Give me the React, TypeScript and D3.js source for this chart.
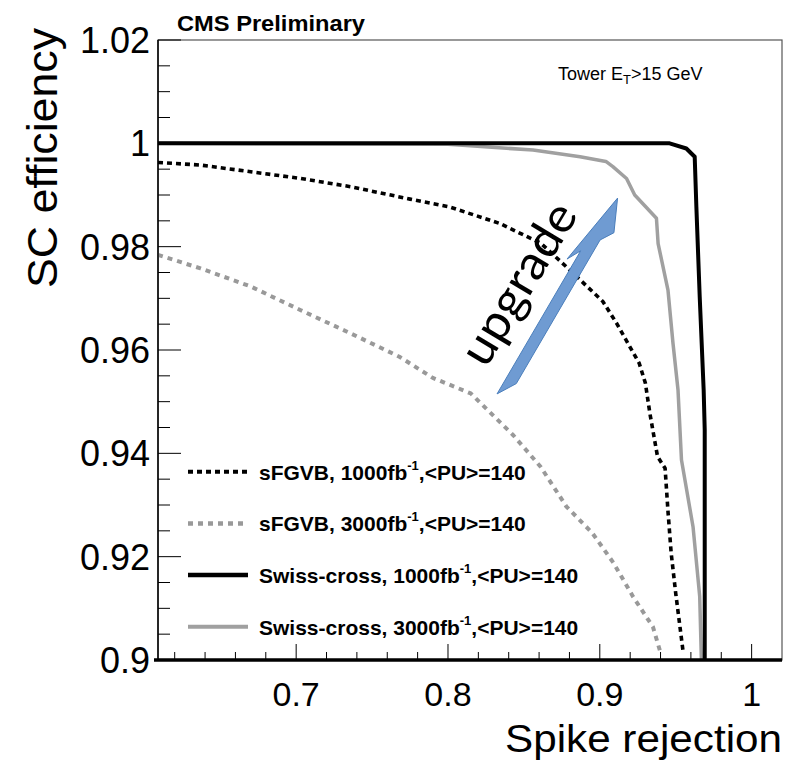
import React, { useEffect, useRef } from 'react';
import * as d3 from 'd3';

type Pt = [number, number];

// sFGVB, 1000 fb-1, <PU>=140  (spike rejection, SC efficiency)
const sfgvb1000: Pt[] = [
  [0.609, 0.9963], [0.637, 0.9958], [0.670, 0.9945], [0.703, 0.9932], [0.736, 0.9916],
  [0.775, 0.9892], [0.801, 0.9877], [0.834, 0.9845], [0.861, 0.9807], [0.878, 0.9761],
  [0.902, 0.9694], [0.911, 0.9652], [0.926, 0.9574], [0.930, 0.9536], [0.933, 0.9477],
  [0.938, 0.9394], [0.943, 0.9371], [0.945, 0.9284], [0.947, 0.9207], [0.950, 0.9129],
  [0.955, 0.9013],
];

// sFGVB, 3000 fb-1
const sfgvb3000: Pt[] = [
  [0.609, 0.9784], [0.637, 0.9758], [0.670, 0.9723], [0.703, 0.9677], [0.736, 0.9632],
  [0.768, 0.9587], [0.790, 0.9546], [0.815, 0.9516], [0.843, 0.9435], [0.861, 0.9374],
  [0.878, 0.9297], [0.895, 0.9246], [0.909, 0.9188], [0.922, 0.9122], [0.935, 0.9064],
  [0.940, 0.9014],
];

// Swiss-cross, 1000 fb-1
const swiss1000: Pt[] = [
  [0.609, 1.0], [0.946, 1.0], [0.957, 0.999], [0.9625, 0.9974], [0.9636, 0.9877],
  [0.9658, 0.9703], [0.9684, 0.9523], [0.9691, 0.9445], [0.9691, 0.9],
];

// Swiss-cross, 3000 fb-1
const swiss3000: Pt[] = [
  [0.609, 1.0], [0.800, 0.9998], [0.856, 0.9987], [0.887, 0.9974], [0.904, 0.9965],
  [0.9086, 0.9955], [0.9176, 0.9932], [0.923, 0.990], [0.9373, 0.9855], [0.9384, 0.9806],
  [0.9449, 0.9716], [0.9482, 0.9613], [0.9515, 0.9523], [0.9538, 0.9387], [0.9614, 0.9258],
  [0.9658, 0.9123], [0.9669, 0.9001],
];

// "upgrade" arrow outline, in data units
const arrowShape: Pt[] = [
  [0.8323, 0.9515], [0.8874, 0.9792], [0.8784, 0.9776], [0.9117, 0.9894],
  [0.9093, 0.9827], [0.9002, 0.9813], [0.845, 0.9535],
];
const arrowLabelAt: Pt = [0.8452, 0.9731];

const xTicks = [0.7, 0.8, 0.9, 1.0];
const yTicks = [0.9, 0.92, 0.94, 0.96, 0.98, 1.0, 1.02];
const legendNames = ['sFGVB, 1000fb', 'sFGVB, 3000fb', 'Swiss-cross, 1000fb', 'Swiss-cross, 3000fb'];

const W = 788;
const H = 760;
const FONT = "'Liberation Sans', Arial, Helvetica, sans-serif";

const App = () => {
  const svgRef = useRef<SVGSVGElement>(null);

  useEffect(() => {
    const svg = d3.select(svgRef.current);
    svg.selectAll('*').remove();

    const left = 158, right = 782, top = 40, bottom = 660;
    const x = d3.scaleLinear().domain([0.609, 1.02]).range([left, right]);
    const y = d3.scaleLinear().domain([0.9, 1.02]).range([bottom, top]);

    svg.append('rect')
      .attr('width', W).attr('height', H).attr('fill', '#fff');

    // frame
    svg.append('rect')
      .attr('x', left).attr('y', top)
      .attr('width', right - left).attr('height', bottom - top)
      .attr('fill', 'none').attr('stroke', '#555').attr('stroke-width', 1.2);

    const styles = [
      { color: '#000', width: 3.6, dash: '5,4' },
      { color: '#999', width: 4, dash: '5,5' },
      { color: '#000', width: 4, dash: null },
      { color: '#a0a0a0', width: 3.5, dash: null },
    ];
    const seriesData = [sfgvb1000, sfgvb3000, swiss1000, swiss3000];

    const line = d3.line<Pt>().x(d => x(d[0])).y(d => y(d[1]));

    // draw order: dotted first, gray solid below black solid
    [1, 0, 3, 2].forEach(i => {
      svg.append('path')
        .attr('d', line(seriesData[i]))
        .attr('fill', 'none')
        .attr('stroke', styles[i].color)
        .attr('stroke-width', styles[i].width)
        .attr('stroke-dasharray', styles[i].dash)
        .attr('stroke-linejoin', 'round');
    });

    // y axis
    const yAxis = svg.append('g');
    yAxis.append('line')
      .attr('x1', left).attr('x2', left).attr('y1', top).attr('y2', bottom + 1)
      .attr('stroke', '#000').attr('stroke-width', 1.5);
    d3.range(0.9, 1.0201, 0.005).forEach(v => {
      const major = Math.abs(Math.round(v / 0.02) * 0.02 - v) < 1e-6;
      yAxis.append('line')
        .attr('x1', left).attr('x2', left + (major ? 23 : 12))
        .attr('y1', y(v)).attr('y2', y(v))
        .attr('stroke', '#000').attr('stroke-width', 1);
    });
    yTicks.forEach(v => {
      yAxis.append('text')
        .attr('x', 150).attr('y', y(v) + 13)
        .attr('text-anchor', 'end')
        .attr('font-family', FONT).attr('font-size', 36)
        .text(String(+v.toFixed(2)));
    });

    // x axis
    const xAxis = svg.append('g');
    d3.range(0.62, 1.0101, 0.02).forEach(v => {
      const major = Math.abs(Math.round(v / 0.1) * 0.1 - v) < 1e-6;
      xAxis.append('line')
        .attr('x1', x(v)).attr('x2', x(v))
        .attr('y1', bottom).attr('y2', bottom - (major ? 16 : 8))
        .attr('stroke', '#000').attr('stroke-width', 1);
    });
    xAxis.append('line')
      .attr('x1', left - 4).attr('x2', right).attr('y1', bottom).attr('y2', bottom)
      .attr('stroke', '#000').attr('stroke-width', 3.5);
    xTicks.forEach(v => {
      xAxis.append('text')
        .attr('x', x(v)).attr('y', 706)
        .attr('text-anchor', 'middle')
        .attr('font-family', FONT).attr('font-size', 34)
        .text(String(+v.toFixed(1)));
    });

    // axis titles
    svg.append('text')
      .attr('x', right).attr('y', 752)
      .attr('text-anchor', 'end')
      .attr('font-family', FONT).attr('font-size', 38)
      .attr('textLength', 277).attr('lengthAdjust', 'spacingAndGlyphs')
      .text('Spike rejection');

    svg.append('text')
      .attr('transform', 'translate(57,288) rotate(-90)')
      .attr('font-family', FONT).attr('font-size', 42)
      .attr('textLength', 260).attr('lengthAdjust', 'spacingAndGlyphs')
      .text('SC efficiency');

    // header labels
    svg.append('text')
      .attr('x', 177).attr('y', 31)
      .attr('font-family', FONT).attr('font-size', 22).attr('font-weight', 'bold')
      .attr('textLength', 188).attr('lengthAdjust', 'spacingAndGlyphs')
      .text('CMS Preliminary');

    const tower = svg.append('text')
      .attr('x', 558).attr('y', 80)
      .attr('font-family', FONT).attr('font-size', 18);
    tower.append('tspan').text('Tower E');
    tower.append('tspan').attr('font-size', 13).attr('dy', 4).text('T');
    tower.append('tspan').attr('dy', -4).text('>15 GeV');

    // legend
    legendNames.forEach((name, i) => {
      const ry = 471.7 + i * 51.7;
      svg.append('line')
        .attr('x1', 188).attr('x2', 248).attr('y1', ry).attr('y2', ry)
        .attr('stroke', styles[i].color)
        .attr('stroke-width', styles[i].width + 0.5)
        .attr('stroke-dasharray', styles[i].dash);
      const t = svg.append('text')
        .attr('x', 259).attr('y', ry + 8)
        .attr('font-family', FONT).attr('font-size', 21).attr('font-weight', 'bold');
      t.append('tspan').text(name);
      t.append('tspan').attr('font-size', 13).attr('dy', -10).text('-1');
      t.append('tspan').attr('dy', 10).text(',<PU>=140');
    });

    // upgrade arrow annotation
    svg.append('path')
      .attr('d', d3.line<Pt>().x(d => x(d[0])).y(d => y(d[1]))(arrowShape) + 'Z')
      .attr('fill', '#6f9bd2')
      .attr('stroke', '#4a7ebb')
      .attr('stroke-width', 1);

    svg.append('text')
      .attr('transform', `translate(${x(arrowLabelAt[0])},${y(arrowLabelAt[1])}) rotate(-59)`)
      .attr('text-anchor', 'middle')
      .attr('dominant-baseline', 'central')
      .attr('font-family', "Lato, 'Open Sans', sans-serif").attr('font-size', 48)
      .attr('textLength', 180).attr('lengthAdjust', 'spacingAndGlyphs')
      .text('upgrade');
  }, []);

  return (
    <svg
      ref={svgRef}
      width={W}
      height={H}
      style={{ position: 'absolute', left: 0, top: 0, display: 'block' }}
    />
  );
};

export default App;
